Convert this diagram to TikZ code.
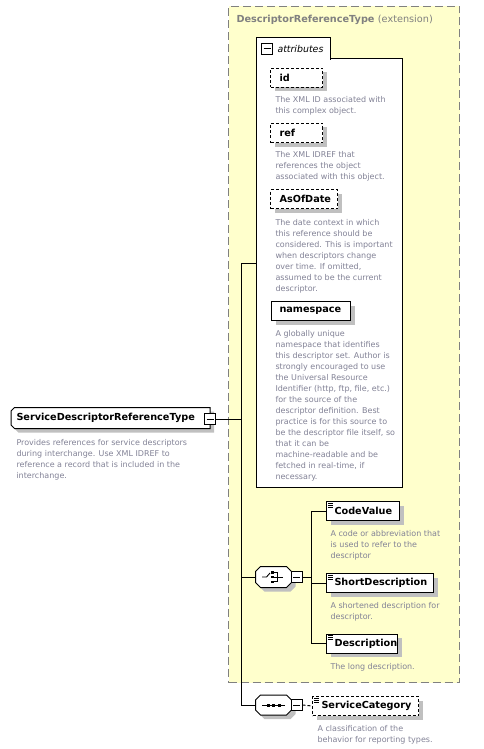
\documentclass[tikz,border=0pt]{standalone}
\usepackage{fontspec}
\setmainfont{DejaVu Sans}
\usetikzlibrary{shadows,calc}
\definecolor{extfill}{RGB}{255,255,204}
\definecolor{extline}{RGB}{128,128,128}
\definecolor{desccol}{RGB}{130,130,150}
\definecolor{shadecol}{RGB}{192,192,192}
\newcommand{\namefont}{\fontsize{9.7}{11}\selectfont\bfseries}
\newcommand{\descfont}{\fontsize{8}{11}\selectfont}
\newcommand{\tabfont}{\fontsize{9.4}{11}\selectfont\itshape}
% octagon outline round a node #1 with chamfer #2
\newcommand{\octpath}[2]{([xshift=#2]#1.north west) -- ([xshift=-#2]#1.north east) -- ([yshift=-#2]#1.north east) -- ([yshift=#2]#1.south east) -- ([xshift=-#2]#1.south east) -- ([xshift=#2]#1.south west) -- ([yshift=#2]#1.south west) -- ([yshift=-#2]#1.north west) -- cycle}
% outline with only the left corners cut
\newcommand{\leftcutpath}[2]{([xshift=#2]#1.north west) -- (#1.north east) -- (#1.south east) -- ([xshift=#2]#1.south west) -- ([yshift=#2]#1.south west) -- ([yshift=-#2]#1.north west) -- cycle}
\begin{document}
\begin{tikzpicture}[x=1pt,y=-1pt,line width=1pt,
  sh/.style={drop shadow={shadow xshift=4pt,shadow yshift=-4pt,fill=shadecol,opacity=1}},
  shcanvas/.style={fill=shadecol,draw=none,transform canvas={shift={(4pt,-4pt)}}},
  namebox/.style={draw=black,fill=white,anchor=north west,minimum height=19pt,inner xsep=9pt,inner ysep=0pt,align=left,font=\namefont,sh},
  attrbox/.style={namebox,dash pattern=on 3pt off 2pt},
  elembox/.style={namebox,inner xsep=8pt,
    path picture={\draw[solid,line width=0.7pt]
      ([shift={(1.5pt,-1.8pt)}]path picture bounding box.north west) -- ++(5pt,0pt)
      ([shift={(1.5pt,-3.8pt)}]path picture bounding box.north west) -- ++(5pt,0pt)
      ([shift={(1.5pt,-5.8pt)}]path picture bounding box.north west) -- ++(5pt,0pt);}},
  optbox/.style={elembox,dash pattern=on 3pt off 2pt},
  descr/.style={anchor=north west,inner sep=0pt,align=left,font=\descfont,text=desccol},
  minusbox/.style={draw=black,fill=white,minimum size=11pt,inner sep=0pt,
    path picture={\draw[solid,line width=1pt]
      ([xshift=2pt]path picture bounding box.west) -- ([xshift=-2pt]path picture bounding box.east);}},
  octo/.style={minimum width=35pt,minimum height=20pt,inner sep=0pt},
]
\useasboundingbox (0,0) rectangle (483,749);

% extension box
\node[draw=extline,dash pattern=on 8pt off 4pt,fill=extfill,anchor=north west,
  minimum width=231pt,minimum height=676pt,inner sep=0pt] (ext) at (228,6) {};
\node[anchor=base west,inner sep=0pt,text=extline,font=\namefont] (exttitle) at (236,23)
  {DescriptorReferenceType \mdseries(extension)};

% connectors (main)
\coordinate (jt) at (241,263);
\coordinate (jm) at (241,419);
\coordinate (jc) at (241,577);
\coordinate (js) at (241,705);
\draw (jt) -- (js);

% attributes group
\node[draw=black,fill=white,anchor=north west,minimum width=146pt,minimum height=429pt,inner sep=0pt] (attrbox) at (256,58) {};
\node[fill=white,anchor=north west,minimum width=73pt,minimum height=21pt,inner sep=0pt] (attrtab) at (256,38) {};
\draw (attrtab.south west) -- (attrtab.north west) -- (attrtab.north east) -- (attrtab.south east);
\node[minusbox] (tabminus) at (267,49) {};
\node[anchor=base west,inner sep=0pt,font=\tabfont] (tabtext) at (277,53) {attributes};
\draw (jt) -- (jt -| attrbox.west);

\node[attrbox,text width=34pt] (id) at (270,68) {id};
\node[descr] (iddesc) at (275,96) {The XML ID associated with\\this complex object.};
\node[attrbox,text width=34pt] (ref) at (270,123) {ref};
\node[descr] (refdesc) at (275,151) {The XML IDREF that\\references the object\\associated with this object.};
\node[attrbox,text width=49pt] (asof) at (270,189) {AsOfDate};
\node[descr] (asofdesc) at (275,219) {The date context in which\\this reference should be\\considered. This is important\\when descriptors change\\over time. If omitted,\\assumed to be the current\\descriptor.};
\node[namebox,inner xsep=8pt,text width=63pt] (ns) at (271,301) {namespace};
\node[descr] (nsdesc) at (275,330) {A globally unique\\namespace that identifies\\this descriptor set. Author is\\strongly encouraged to use\\the Universal Resource\\Identifier (http, ftp, file, etc.)\\for the source of the\\descriptor definition. Best\\practice is for this source to\\be the descriptor file itself, so\\that it can be\\machine-readable and be\\fetched in real-time, if\\necessary.};

% main node
\node[anchor=west,minimum width=198pt,minimum height=20pt,
  inner xsep=5pt,inner ysep=0pt,text width=188pt,align=left,font=\namefont] (main) at (11,418) {\phantom{ServiceDescriptorReferenceType}};
\fill[shcanvas] \leftcutpath{main}{3.5pt};
\draw[fill=white] \leftcutpath{main}{3.5pt};
\node[anchor=west,inner xsep=5pt,inner ysep=0pt,font=\namefont] (maintext) at (main.west) {ServiceDescriptorReferenceType};
\node[minusbox] (mminus) at (210,419) {};
\draw (mminus.east) -- (jm);
\node[descr] (maindesc) at (16,439) {Provides references for service descriptors\\during interchange. Use XML IDREF to\\reference a record that is included in the\\interchange.};

% choice
\node[octo] (choice) at (273.5,577) {};
\fill[shcanvas] \octpath{choice}{5pt};
\draw[fill=white] \octpath{choice}{5pt};
\draw[line width=0.9pt] (262,577) -- (266.5,577) -- (270,573);
\fill (271,571) rectangle (273.5,573.5);
\fill (271,575.8) rectangle (273.5,578.3);
\fill (271,580.5) rectangle (273.5,583);
\draw[line width=0.9pt] (274,572.3) -- (277,572.3) -- (277,581.8) -- (274,581.8) (274,577) -- (283,577);
\node[minusbox] (cminus) at (296.5,577) {};
\draw (jc) -- (choice.west);
\coordinate (cj) at (311,577);
\draw (cminus.east) -- (cj);

\node[elembox,text width=57pt] (code) at (326,501) {CodeValue};
\node[descr] (codedesc) at (330,530) {A code or abbreviation that\\is used to refer to the\\descriptor};
\node[elembox,text width=91pt] (short) at (326,573) {ShortDescription};
\node[descr] (shortdesc) at (330,602) {A shortened description for\\descriptor.};
\node[elembox,text width=55pt] (descn) at (326,633.5) {Description};
\node[descr] (descndesc) at (330,663) {The long description.};
\draw (cj |- code.west) -- (cj |- descn.west);
\draw (cj |- code.west) -- (code.west);
\draw (cj |- short.west) -- (short.west);
\draw (cj |- descn.west) -- (descn.west);

% sequence
\node[octo,minimum height=19pt] (seq) at (273.5,705) {};
\fill[shcanvas] \octpath{seq}{5pt};
\draw[fill=white] \octpath{seq}{5pt};
\draw[line width=0.9pt] (262,705) -- (285,705);
\fill (266.5,703.5) rectangle (269.5,706.5);
\fill (272,703.5) rectangle (275,706.5);
\fill (277.5,703.5) rectangle (280.5,706.5);
\node[minusbox] (sminus) at (296.5,705) {};
\draw (js) -- (seq.west);
\node[optbox,inner xsep=9pt,text width=88pt] (cat) at (312,696) {ServiceCategory};
\draw[dash pattern=on 3pt off 2pt] (sminus.east) -- (cat.west);
\node[descr] (catdesc) at (317,725) {A classification of the\\behavior for reporting types.};
\end{tikzpicture}
\end{document}
